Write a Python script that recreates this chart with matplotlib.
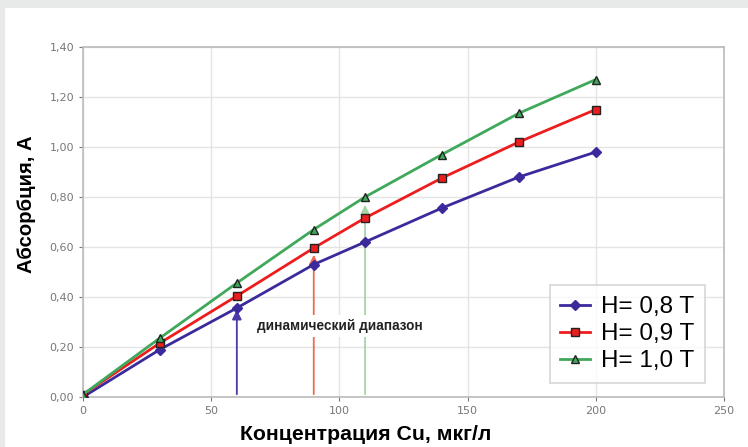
import matplotlib.pyplot as plt

# concentration of Cu, ug/l
conc = [0, 30, 60, 90, 110, 140, 170, 200]
h08 = [0.00, 0.19, 0.356, 0.53, 0.62, 0.756, 0.88, 0.98]
h09 = [0.01, 0.216, 0.404, 0.596, 0.716, 0.876, 1.02, 1.15]
h10 = [0.01, 0.236, 0.456, 0.67, 0.80, 0.97, 1.135, 1.27]

# dynamic range arrows: x position, top of arrow
arrow_x = [60, 90, 110]
arrow_top = [0.36, 0.58, 0.78]
arrow_colors = ['#4a3aa8', '#f06a50', '#a8d4a8']

blue = '#3b2a9c'
red = '#ee1d1d'
green = '#3fa85a'

fig = plt.figure(figsize=(7.48, 4.47), dpi=100)
fig.patch.set_facecolor('#e8eaea')

# white panel behind the chart
bg = fig.add_axes([5 / 748, 0, 1, 1 - 8 / 447], zorder=-1)
bg.set_facecolor('white')
bg.set_xticks([])
bg.set_yticks([])
for s in bg.spines.values():
    s.set_visible(False)

ax = fig.add_axes([83 / 748, 1 - 397 / 447, (724 - 83) / 748, (397 - 47) / 447])
ax.set_facecolor('white')

for x, top, c in zip(arrow_x, arrow_top, arrow_colors):
    ax.annotate('', xy=(x, top), xytext=(x, 0),
                arrowprops=dict(arrowstyle='-|>', color=c, lw=1.3, mutation_scale=14),
                zorder=2)

ax.plot(conc, h08, color=blue, lw=2, marker='D', ms=5, mfc=blue, mec=blue, label='H= 0,8 T', zorder=4)
ax.plot(conc, h09, color=red, lw=2, marker='s', ms=6, mfc=red, mec='#222222', label='H= 0,9 T', zorder=4)
ax.plot(conc, h10, color=green, lw=2, marker='^', ms=6, mfc=green, mec='#222222', label='H= 1,0 T', zorder=4)

ax.text(100, 0.285, 'динамический диапазон', fontsize=9.8, ha='center', va='center',
        fontweight='bold', color='#222222', family='Liberation Sans',
        bbox=dict(facecolor='white', edgecolor='none', pad=3), zorder=3)

ax.set_xlim(0, 250)
ax.set_ylim(0, 1.4)
ax.set_xticks([0, 50, 100, 150, 200, 250])
ax.set_yticks([i * 0.2 for i in range(8)])
ax.set_yticklabels([f'{i * 0.2:.2f}'.replace('.', ',') for i in range(8)])
ax.tick_params(colors='#777777', labelsize=8, length=3, direction='out')
ax.grid(True, color='#e4e4e4', lw=1)
ax.set_axisbelow(True)
for s in ax.spines.values():
    s.set_color('#bbbbbb')
    s.set_linewidth(1.2)

fig.text(26 / 748, 1 - 204 / 447, 'Абсорбция, А', fontsize=14.6, fontweight='bold',
         family='Liberation Sans', rotation=90, ha='center', va='center')
fig.text(366 / 748, 1 - 435 / 447, 'Концентрация Cu, мкг/л', fontsize=15.3, fontweight='bold',
         family='Liberation Sans', ha='center', va='center')

leg = ax.legend(loc='lower right', bbox_to_anchor=(0.97, 0.04), borderaxespad=0, frameon=True,
                fancybox=False, edgecolor='#cccccc', handlelength=1.2, handletextpad=0.45,
                borderpad=0.45, labelspacing=0.2,
                prop={'family': 'Liberation Sans', 'size': 17.5})
leg.get_frame().set_linewidth(1.2)

fig.savefig('out.png', dpi=100, facecolor=fig.get_facecolor())
